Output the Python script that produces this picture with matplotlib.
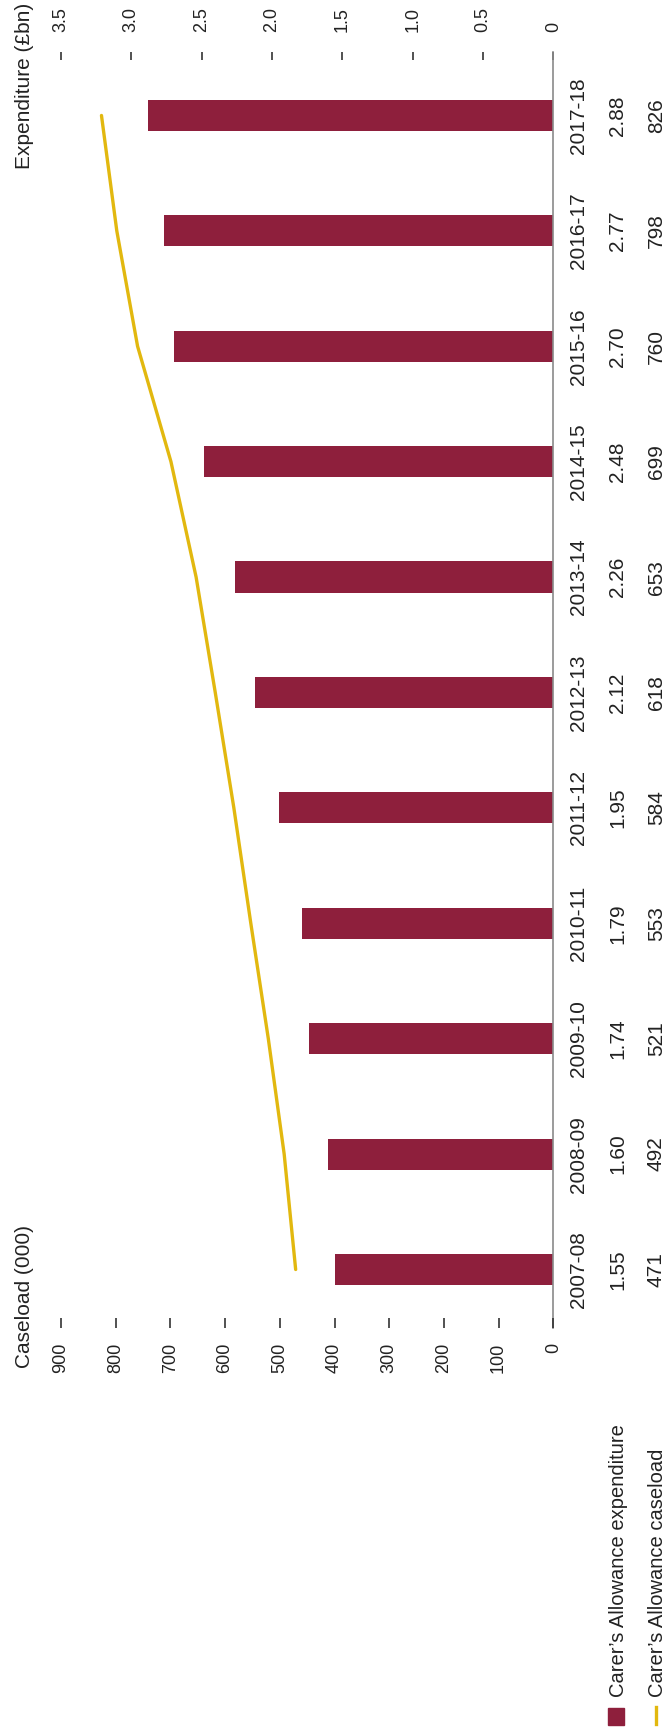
import matplotlib.pyplot as plt
import matplotlib.transforms as mtransforms
from matplotlib.patches import Rectangle
from matplotlib.lines import Line2D

plt.rcParams['font.family'] = ['Liberation Sans', 'DejaVu Sans']

years = ['2007-08', '2008-09', '2009-10', '2010-11', '2011-12', '2012-13',
         '2013-14', '2014-15', '2015-16', '2016-17', '2017-18']
expenditure = [1.55, 1.60, 1.74, 1.79, 1.95, 2.12, 2.26, 2.48, 2.70, 2.77, 2.88]
caseload = [471, 492, 521, 553, 584, 618, 653, 699, 760, 798, 826]

exp_ticks = [0, 0.5, 1.0, 1.5, 2.0, 2.5, 3.0, 3.5]
exp_ticklabels = ['0', '0.5', '1.0', '1.5', '2.0', '2.5', '3.0', '3.5']
case_ticks = [0, 100, 200, 300, 400, 500, 600, 700, 800, 900]
case_ticklabels = ['0', '100', '200', '300', '400', '500', '600', '700', '800', '900']

bar_col = '#8e1f3c'
line_col = '#e2b80f'
txt_col = '#222222'
fs = 15
fs_tick = 13
fs_leg = 14.5

W, H = 668, 1727
fig = plt.figure(figsize=(W / 100, H / 100), dpi=100)

def fx(px):
    return px / W

def fy(py):
    return 1 - py / H

# chart is drawn sideways: categories run up the page, values grow leftwards
left, right, top, bottom = 61, 553.3, 52, 1328
ax = fig.add_axes([fx(left), fy(bottom), fx(right - left), (bottom - top) / H])
pos = list(range(len(years)))

ax.barh(pos, expenditure, height=0.27, color=bar_col, zorder=2)
ax.set_xlim(3.5, 0)
ax.set_ylim(-0.507, 10.55)

ax2 = ax.twiny()
ax2.plot(caseload, pos, color=line_col, lw=2.4, solid_capstyle='round', zorder=3)
ax2.set_xlim(900, 0)

for a in (ax, ax2):
    for s in a.spines.values():
        s.set_visible(False)
    a.set_yticks([])
ax.spines['right'].set_visible(True)
ax.spines['right'].set_color('#8a8a8a')
ax.spines['right'].set_linewidth(1.2)

ax.xaxis.tick_top()
ax.set_xticks(exp_ticks, exp_ticklabels)
ax.tick_params(axis='x', direction='in', length=5.8, width=1.2, color='#333333',
               pad=14.4, labelsize=fs_tick, labelcolor=txt_col, labelrotation=90)

ax2.xaxis.tick_bottom()
ax2.set_xticks(case_ticks, case_ticklabels)
ax2.tick_params(axis='x', direction='in', length=7.2, width=1.2, color='#333333',
                pad=10.4, labelsize=fs_tick, labelcolor=txt_col, labelrotation=90)

# category and value columns beside the baseline
tr = mtransforms.blended_transform_factory(fig.transFigure, ax.transData)
for i in pos:
    ax.text(fx(578.5), i, years[i], transform=tr, rotation=90, ha='center', va='center',
            fontsize=fs, color=txt_col)
    ax.text(fx(617.5), i, f'{expenditure[i]:.2f}', transform=tr, rotation=90,
            ha='center', va='center', fontsize=fs, color=txt_col)
    ax.text(fx(656.5), i, str(caseload[i]), transform=tr, rotation=90,
            ha='center', va='center', fontsize=fs, color=txt_col)

fig.text(fx(25), fy(3), 'Expenditure (£bn)', rotation=90, ha='center', va='top',
         fontsize=fs, color=txt_col)
fig.text(fx(25), fy(1368), 'Caseload (000)', rotation=90, ha='center', va='bottom',
         fontsize=fs, color=txt_col)

# legend
fig.add_artist(Rectangle((fx(608), fy(1725)), fx(16), 17 / H, color=bar_col,
                         transform=fig.transFigure))
fig.add_artist(Line2D([fx(655.5), fx(655.5)], [fy(1724), fy(1707)], color=line_col,
                      lw=2.4, transform=fig.transFigure))
fig.text(fx(618), fy(1697), "Carer\u2019s Allowance expenditure", rotation=90,
         ha='center', va='bottom', fontsize=fs_leg, color=txt_col)
fig.text(fx(657.5), fy(1697), "Carer\u2019s Allowance caseload", rotation=90,
         ha='center', va='bottom', fontsize=fs_leg, color=txt_col)

fig.savefig('out.png', dpi=100, facecolor='white')
